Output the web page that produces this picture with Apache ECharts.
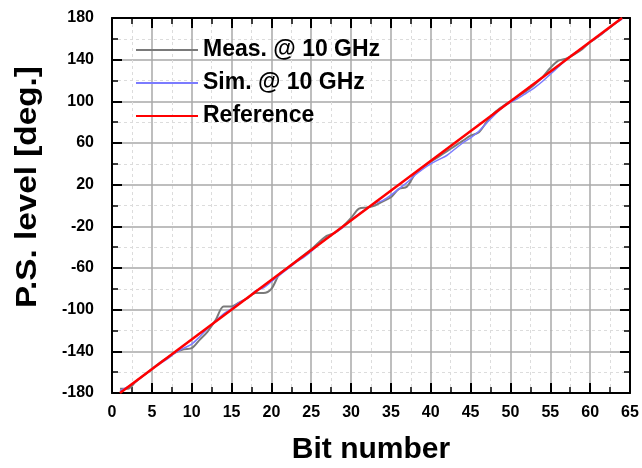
<!DOCTYPE html>
<html><head><meta charset="utf-8">
<script src="https://cdn.jsdelivr.net/npm/echarts@6/dist/echarts.min.js"></script>
<style>html,body{margin:0;padding:0;background:#fff}#c{width:642px;height:468px}</style>
</head><body><div id="c"></div>
<script>
const bits = [1,2,3,4,5,6,7,8,9,10,11,12,13,14,15,16,17,18,19,20,21,22,23,24,25,26,27,28,29,30,31,32,33,34,35,36,37,38,39,40,41,42,43,44,45,46,47,48,49,50,51,52,53,54,55,56,57,58,59,60,61,62,63,64];
const measured = [-176,-176,-169,-163,-157,-151,-146,-141,-138,-137,-129,-121,-110,-97,-97,-93,-89,-84,-84,-80,-66,-60,-54,-48,-42,-35,-29,-26,-20,-12,-3,-2,0,4,8,16,18,30,37,42,47,52,57,62,67,70,80,89,95,100,105,110,116,123,132,139,141,145,150,157,162,168,174,180];
const simulated = [-178,-174,-169,-163,-157,-152,-147,-141,-137,-133,-126,-118,-111,-104,-99,-93,-89,-82,-79,-73,-67,-61,-55,-50,-44,-37,-31,-26,-21,-14,-8,-3,2,5,10,16,22,29,35,40,44,48,54,60,65,71,79,87,94,99,103,108,113,119,126,133,140,146,151,157,162,168,174,179];
const referenceBits = [1,64];
const referenceVals = [-180,180];
const seriesNames = ['Meas. @ 10 GHz','Sim. @ 10 GHz','Reference'];
const xTitle = 'Bit number';
const yTitle = 'P.S. level [deg.]';

const FONT = '"Liberation Sans", Arial, sans-serif';
const chart = echarts.init(document.getElementById('c'), null, {renderer:'canvas'});
const zip = (a,b)=>a.map((v,i)=>[v,b[i]]);
const axisCommon = {
  axisLine:{show:true,onZero:false,lineStyle:{color:'#000',width:2}},
  axisTick:{show:true,inside:true,length:10,lineStyle:{color:'#000',width:2}},
  minorTick:{show:true,splitNumber:2,length:6,lineStyle:{color:'#000',width:1.5}},
};
chart.setOption({
  animation:false,
  backgroundColor:'#fff',
  grid:{left:112,right:12,top:18,bottom:75,containLabel:false,outerBoundsMode:'none'},
  legend:{
    show:true,orient:'vertical',left:131,top:33,itemWidth:62,itemHeight:2,itemGap:9,
    icon:'rect',
    textStyle:{fontFamily:FONT,fontWeight:'bold',fontSize:23,color:'#000',lineHeight:24},
    data:seriesNames
  },
  xAxis:[
    Object.assign({type:'value',min:0,max:65,interval:5,position:'bottom',
      axisLabel:{show:true,margin:12,fontFamily:FONT,fontWeight:'bold',fontSize:16,color:'#000'},
      splitLine:{show:true,lineStyle:{color:'#a8a8a8',width:1.5}},
      minorSplitLine:{show:true,lineStyle:{color:'#dcdcdc',width:1,type:[3,3]}},
      name:xTitle,nameLocation:'middle',nameGap:42,
      nameTextStyle:{fontFamily:FONT,fontWeight:'bold',fontSize:30,color:'#000'}
    },axisCommon),
    Object.assign({type:'value',min:0,max:65,interval:5,position:'top',
      axisLabel:{show:false},splitLine:{show:false}},axisCommon)
  ],
  yAxis:[
    Object.assign({type:'value',min:-180,max:180,interval:40,position:'left',
      axisLabel:{show:true,margin:18,fontFamily:FONT,fontWeight:'bold',fontSize:16,color:'#000'},
      splitLine:{show:true,lineStyle:{color:'#a8a8a8',width:1.5}},
      minorSplitLine:{show:true,lineStyle:{color:'#dcdcdc',width:1,type:[3,3]}}
    },axisCommon),
    Object.assign({type:'value',min:-180,max:180,interval:40,position:'right',
      axisLabel:{show:false},splitLine:{show:false}},axisCommon)
  ],
  graphic:[{type:'text',x:13,y:308,rotation:Math.PI/2,scaleX:1.11,
    style:{text:yTitle,font:'bold 30px '+FONT,fill:'#000',textVerticalAlign:'top',textAlign:'left'}}],
  series:[
    {name:seriesNames[0],type:'line',data:zip(bits,measured),showSymbol:false,symbol:'none',smooth:0.3,
      lineStyle:{color:'#7a7a7a',width:2},itemStyle:{color:'#7a7a7a'},z:2},
    {name:seriesNames[1],type:'line',data:zip(bits,simulated),showSymbol:false,symbol:'none',smooth:0.3,
      lineStyle:{color:'#7b7bff',width:1.5},itemStyle:{color:'#7b7bff'},z:3},
    {name:seriesNames[2],type:'line',data:zip(referenceBits,referenceVals),showSymbol:false,symbol:'none',
      lineStyle:{color:'#ff0000',width:2.5},itemStyle:{color:'#ff0000'},z:4}
  ]
});
</script></body></html>
